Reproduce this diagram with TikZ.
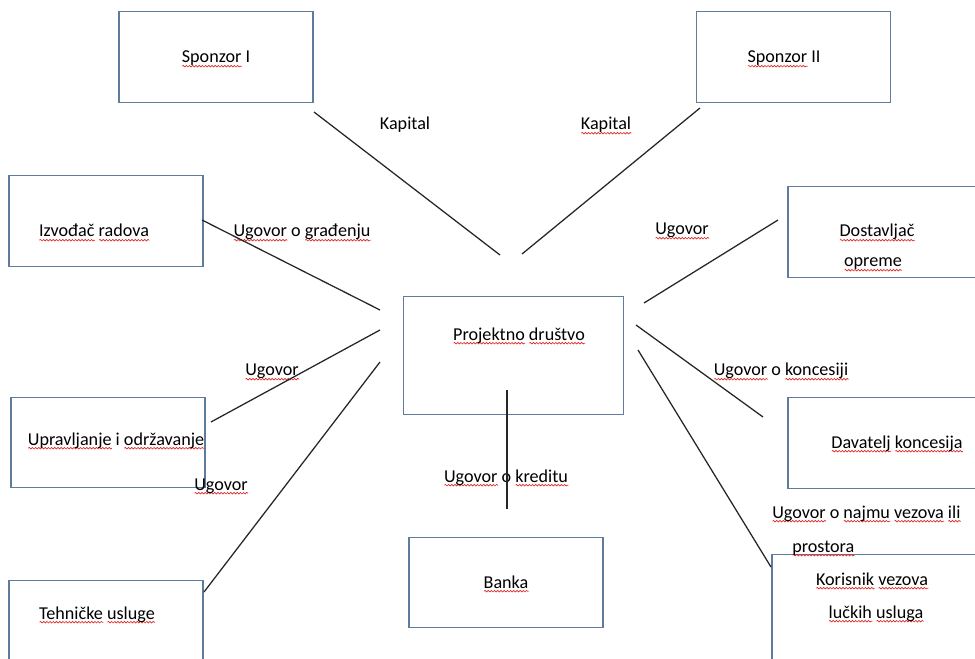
\documentclass[tikz,border=0pt]{standalone}
\usepackage{fontspec}
\setmainfont{Carlito}
\usepackage{xcolor}
\usetikzlibrary{positioning,decorations.pathmorphing}

\definecolor{boxline}{RGB}{96,124,156}
\definecolor{spellred}{RGB}{222,40,40}
\newsavebox{\wavebox}
\newlength{\wavelen}
\newcommand{\wavyword}[1]{\sbox{\wavebox}{#1}\setlength{\wavelen}{\wd\wavebox}%
  \rlap{\tikz[baseline=0pt]\draw[spellred,line width=0.5pt,decorate,
    decoration={snake,amplitude=0.6pt,segment length=2.4pt}] (0pt,-2.4pt) -- (\wavelen,-2.4pt);}%
  \usebox{\wavebox}}

\begin{document}
\begin{tikzpicture}[
  x=0.75pt,y=-0.75pt,
  box/.style={draw=boxline,line width=0.9pt,inner sep=0pt,minimum width=145.5pt,minimum height=68pt},
  txt/.style={font=\fontsize{13.6}{16}\selectfont,inner sep=0pt,anchor=base},
  link/.style={draw=black!85,line width=0.95pt}
]
\useasboundingbox (0,0) rectangle (975,659);
\clip (0,0) rectangle (975,659);

\node[box] (spon1) at (216,57) {};
\node[box] (spon2) at (793.5,57) {};
\node[box] (izv) at (106,221) {};
\node[box] (dost) at (885,232) {};
\node[box,minimum width=164.5pt,minimum height=89pt] (proj) at (513.5,355.5) {};
\node[box] (upr) at (108,442.5) {};
\node[box] (dav) at (885,443) {};
\node[box] (bank) at (506,582.5) {};
\node[box] (teh) at (106,626) {};
\node[box,minimum width=165pt,minimum height=83pt] (kor) at (882,610) {};

\node[txt] (tspon1) at (216,63) {\wavyword{Sponzor} I};
\node[txt] (tspon2) at (784,63) {\wavyword{Sponzor} II};
\node[txt] (tizv) at (94,237) {\wavyword{Izvođač} \wavyword{radova}};
\node[txt] (tdost) at (877,237) {\wavyword{Dostavljač}};
\node[txt] (tdost2) at (873,267) {\wavyword{opreme}};
\node[txt] (tproj) at (519,340) {\wavyword{Projektno} \wavyword{društvo}};
\node[txt] (tupr) at (116,445) {\wavyword{Upravljanje} i \wavyword{održavanje}};
\node[txt] (tdav) at (897,448) {\wavyword{Davatelj} \wavyword{koncesija}};
\node[txt] (tbank) at (506,588) {\wavyword{Banka}};
\node[txt] (tteh) at (97,619) {\wavyword{Tehničke} \wavyword{usluge}};
\node[txt] (tkor) at (872,585) {\wavyword{Korisnik} \wavyword{vezova}};
\node[txt] (tkor2) at (876,618) {\wavyword{lučkih} \wavyword{usluga}};

\node[txt] (lkap1) at (405,130) {Kapital};
\node[txt] (lkap2) at (606,130) {\wavyword{Kapital}};
\node[txt] (lgrad) at (302,237) {\wavyword{Ugovor} o \wavyword{građenju}};
\node[txt] (lugo1) at (682,235) {\wavyword{Ugovor}};
\node[txt] (lugo2) at (272,376) {\wavyword{Ugovor}};
\node[txt] (lkonc) at (781,376) {\wavyword{Ugovor} o \wavyword{koncesiji}};
\node[txt] (lkred) at (506,482) {\wavyword{Ugovor} o \wavyword{kreditu}};
\node[txt] (lugo3) at (221,490) {\wavyword{Ugovor}};
\node[txt,anchor=base west] (lnaj) at (772,518) {\wavyword{Ugovor} o \wavyword{najmu} \wavyword{vezova} \wavyword{ili}};
\node[txt,anchor=base west] (lnaj2) at (792,552) {\wavyword{prostora}};

\coordinate (kapA1) at (314,112);
\coordinate (kapA2) at (500,255);
\coordinate (kapB1) at (700,108);
\coordinate (kapB2) at (522,254);
\coordinate (izvA) at (202,220);
\coordinate (izvB) at (380,310);
\coordinate (uprA) at (211,422);
\coordinate (uprB) at (380,330);
\coordinate (tehA) at (204,592);
\coordinate (tehB) at (380,362);
\coordinate (dostA) at (778,220);
\coordinate (dostB) at (644,303);
\coordinate (davA) at (636,325);
\coordinate (davB) at (763,417);
\coordinate (korA) at (638,350);
\coordinate (korB) at (771,567);
\coordinate (bankA) at (507,390);
\coordinate (bankB) at (507,509);

\draw[link] (kapA1) -- (kapA2);
\draw[link] (kapB1) -- (kapB2);
\draw[link] (izvA) -- (izvB);
\draw[link] (uprA) -- (uprB);
\draw[link] (tehA) -- (tehB);
\draw[link] (dostA) -- (dostB);
\draw[link] (davA) -- (davB);
\draw[link] (korA) -- (korB);
\draw[link] (bankA) -- (bankB);
\end{tikzpicture}
\end{document}
